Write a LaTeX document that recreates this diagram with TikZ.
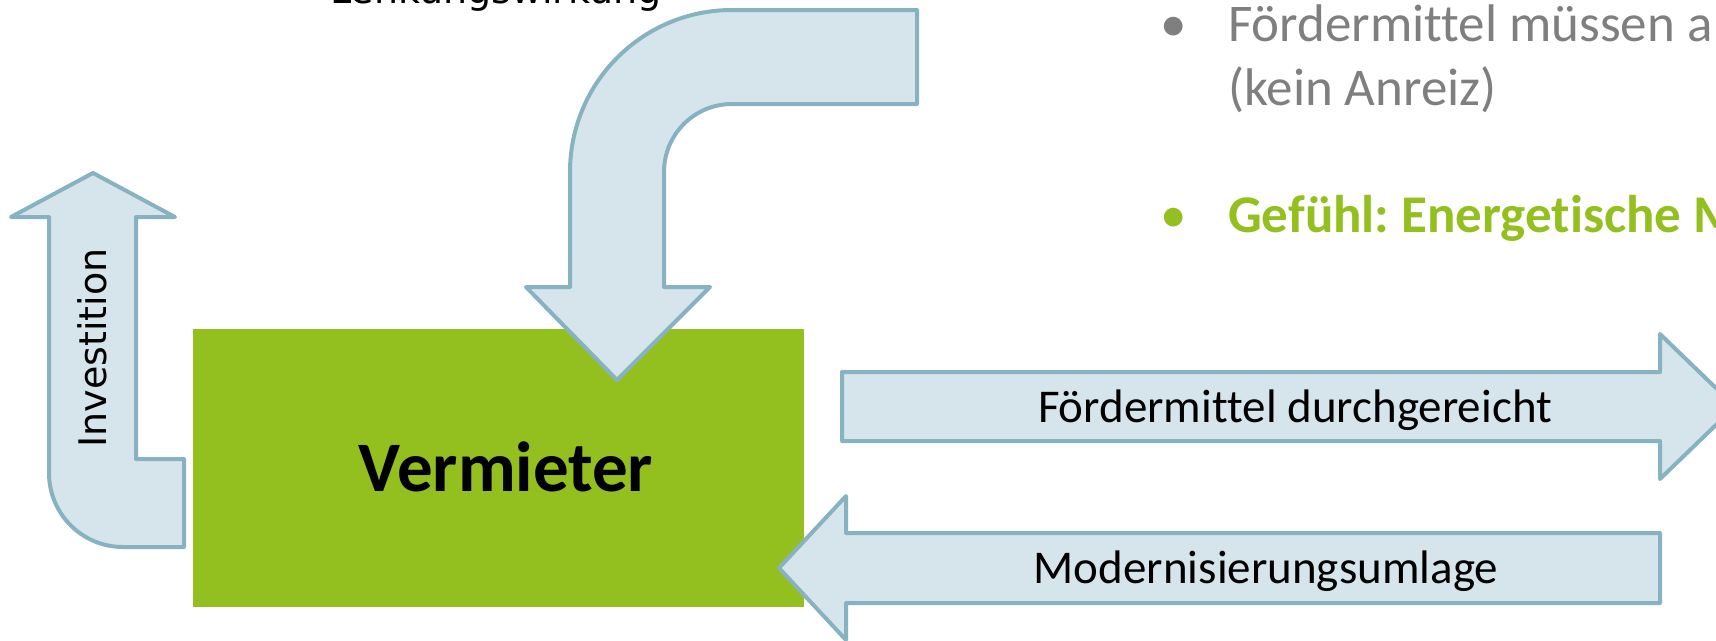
\documentclass[tikz,border=0pt]{standalone}
\usepackage{fontspec}
\setmainfont{Carlito}[Ligatures=CommonOff]
\newfontfamily\dejavu{DejaVu Sans}
\definecolor{arrowfill}{HTML}{D6E5EB}
\definecolor{arrowline}{HTML}{87B2C2}
\definecolor{vgreen}{HTML}{93C01F}
\definecolor{tgray}{HTML}{7F7F7F}
\frenchspacing
\begin{document}
\begin{tikzpicture}[x=1pt,y=-1pt,
  blockarrow/.style={fill=arrowfill,draw=arrowline,line width=4pt,line join=round},
  lbl/.style={inner sep=0pt,font=\fontsize{47}{56}\selectfont},
  vlbl/.style={inner sep=0pt,font=\dejavu\fontsize{38}{46}\selectfont},
  bul/.style={inner sep=0pt,font=\fontsize{53}{64}\selectfont,anchor=base},
  btext/.style={inner sep=0pt,font=\fontsize{53}{64}\selectfont,anchor=base west}]
\useasboundingbox (0,0) rectangle (1716,640);

% main box
\node[fill=vgreen,minimum width=611pt,minimum height=278pt,inner sep=0pt,anchor=north west] (vermieter) at (193,329) {};
\node[inner sep=0pt,anchor=base,font=\fontsize{71}{85}\selectfont\bfseries] (vtext) at (506,491) {Vermieter};

% top bent arrow
\draw[blockarrow] (917,10) -- (732,10)
  .. controls (642.5,10) and (570,82.5) .. (570,172)
  -- (570,287) -- (526,287) -- (617,380) -- (710,287) -- (664,287) -- (664,172)
  .. controls (664,134.4) and (694.4,104) .. (732,104)
  -- (917,104) -- cycle;

% Investition arrow (bent up)
\draw[blockarrow] (184,459) -- (136,459) -- (136,217) -- (175,217) -- (93,173)
  -- (11,217) -- (49,217) -- (49,473)
  .. controls (49,513.9) and (82.1,547) .. (123,547)
  -- (184,547) -- cycle;
\node[vlbl,rotate=90,anchor=base] (invest) at (106,348) {Investition};

% right arrow
\draw[blockarrow] (842,372) -- (1660,372) -- (1660,334) -- (1735,406.5)
  -- (1660,479) -- (1660,441) -- (842,441) -- cycle;
\node[lbl,anchor=base] (foerder) at (1295,422) {Fördermittel durchgereicht};

% left arrow
\draw[blockarrow] (1660,533) -- (846,533) -- (846,496) -- (779,568)
  -- (846,640) -- (846,603) -- (1660,603) -- cycle;
\node[lbl,anchor=base] (modern) at (1266,583) {Modernisierungsumlage};

% top label (cut off)
\node[vlbl,anchor=base west] (lenkung) at (330,3) {Lenkungswirkung};

% bullet list
\node[bul,text=tgray] (b1) at (1174,41) {•};
\node[btext,text=tgray] (t1) at (1228,41) {Fördermittel müssen a};
\node[btext,text=tgray] (t1b) at (1228,105) {(kein Anreiz)};
\node[bul,text=vgreen] (b2) at (1174,232) {•};
\node[btext,text=vgreen,font=\fontsize{53}{64}\selectfont\bfseries] (t2) at (1228,232) {Gefühl: Energetische M};
\end{tikzpicture}
\end{document}
